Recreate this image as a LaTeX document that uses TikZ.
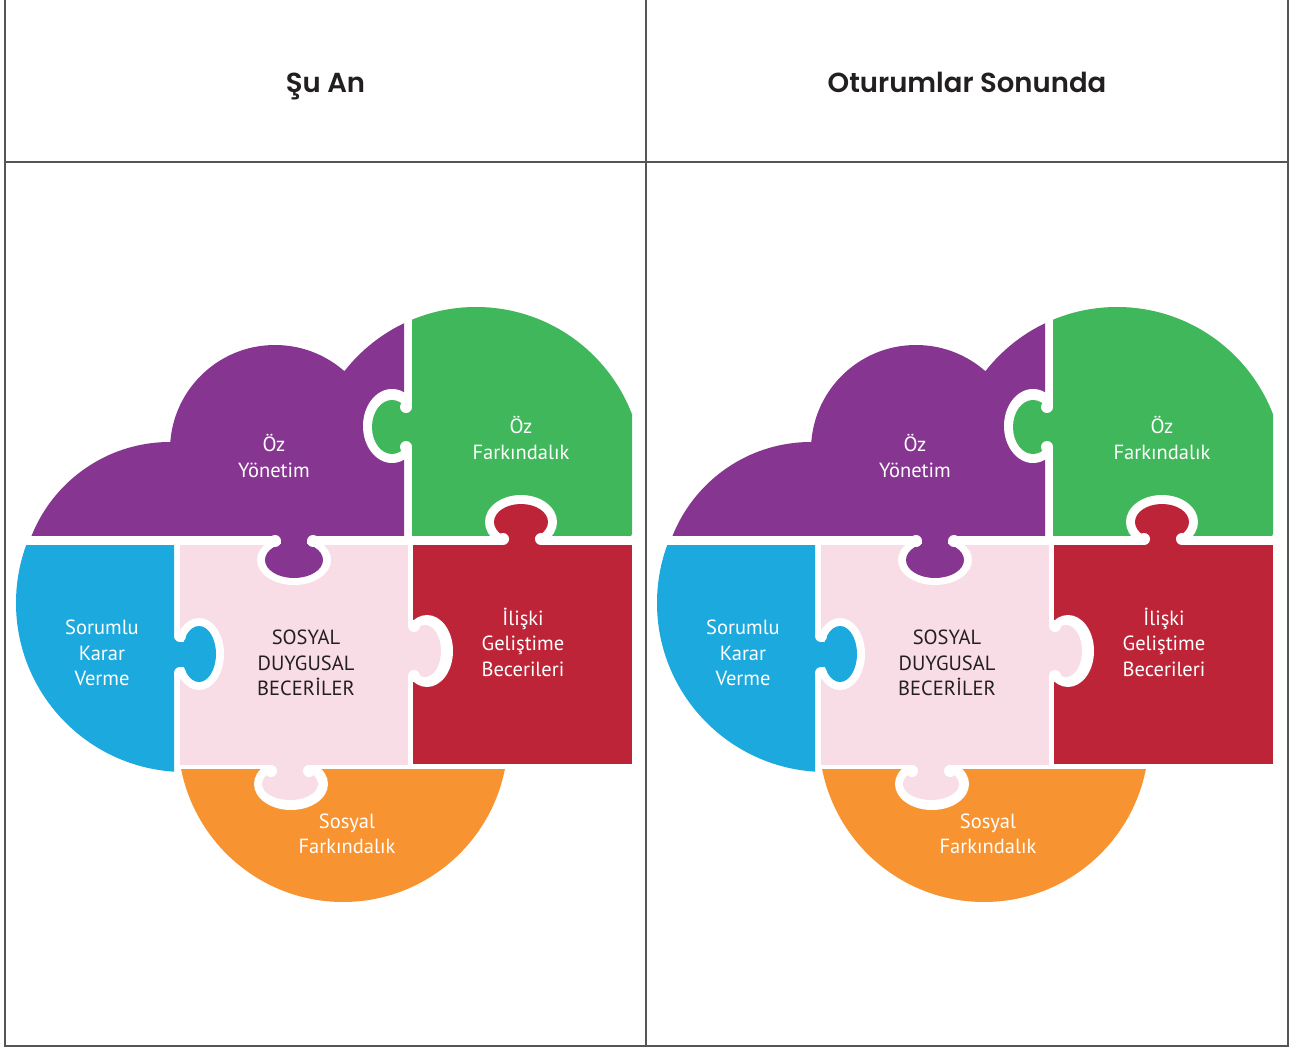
\documentclass[tikz,border=0pt]{standalone}
\usepackage{fontspec}
\setmainfont{PT Sans}
\newfontfamily\headfont{Poppins SemiBold}

\definecolor{pzpurple}{RGB}{134,54,145}
\definecolor{pzgreen}{RGB}{65,183,91}
\definecolor{pzred}{RGB}{190,36,56}
\definecolor{pzblue}{RGB}{28,169,222}
\definecolor{pzpink}{RGB}{249,221,230}
\definecolor{pzorange}{RGB}{247,148,49}
\definecolor{pzdark}{RGB}{35,31,32}
\definecolor{tblline}{RGB}{85,85,85}

\tikzset{
  tbl/.style={draw=tblline, line width=1.6pt},
  lbl/.style={text=white, font=\fontsize{20.5}{25.5}\selectfont, align=center, inner sep=0pt},
  lbldark/.style={lbl, text=pzdark},
  head/.style={text=pzdark, font=\headfont\fontsize{27.5}{32}\selectfont, inner sep=0pt, anchor=base},
}

% concave shoulder where a knob neck leaves its piece:
% #1 colour, #2 corner of the small square, #3 opposite corner, #4 centre of the white cut
\newcommand\pzfillet[4]{%
  \fill[#1] #2 rectangle #3;
  \fill[white] #4 circle[radius=6pt];
}

% one puzzle of six pieces; #1 is the prefix for node names
\newcommand\pzpuzzle[1]{%
  % Oz Yonetim (purple cloud)
  \begin{scope}
    \clip (0,0) rectangle (404,535);
    \fill[pzpurple] (170,591) circle[radius=149pt] (275,450) circle[radius=105pt]
      (476,474) circle[radius=167pt];
  \end{scope}
  % Oz Farkindalik (green)
  \begin{scope}
    \clip (412,0) rectangle (632,535);
    \fill[pzgreen] (476,474) circle[radius=167pt];
  \end{scope}
  % Sorumlu Karar Verme (blue)
  \begin{scope}
    \clip (0,545) rectangle (174,900);
    \fill[pzblue] (185,603) circle[radius=169pt];
  \end{scope}
  % centre and right squares
  \fill[pzpink] (180,545) rectangle (408,765);
  \fill[pzred] (413,545) rectangle (632,764);
  % Sosyal Farkindalik (orange)
  \begin{scope}
    \clip (0,769) rectangle (640,1000);
    \fill[pzorange] (343,737) circle[radius=165pt];
  \end{scope}
  % knob: purple into pink
  \begin{scope}\clip (0,535) rectangle (640,800);
    \fill[white] (294,560) ellipse[x radius=37pt, y radius=25pt];
  \end{scope}
  \fill[pzpurple] (294,560) ellipse[x radius=29pt, y radius=18pt];
  \fill[pzpurple] (281,530) rectangle (307,552);
  \pzfillet{pzpurple}{(275,535)}{(281,541)}{(275,541)}
  \pzfillet{pzpurple}{(307,535)}{(313,541)}{(313,541)}
  % knob: green into purple
  \begin{scope}\clip (0,300) rectangle (406,540);
    \fill[white] (392,426) ellipse[x radius=29pt, y radius=37pt];
  \end{scope}
  \fill[pzgreen] (392,427) ellipse[x radius=20pt, y radius=27pt];
  \fill[pzgreen] (395,413) rectangle (416,441);
  \pzfillet{pzgreen}{(406,407)}{(412,413)}{(406,407)}
  \pzfillet{pzgreen}{(406,441)}{(412,447)}{(406,447)}
  % knob: red into green
  \begin{scope}\clip (400,300) rectangle (640,537);
    \fill[white] (521,522) ellipse[x radius=36pt, y radius=27pt];
  \end{scope}
  \fill[pzred] (521,522) ellipse[x radius=27pt, y radius=18pt];
  \fill[pzred] (509,515) rectangle (535,550);
  \pzfillet{pzred}{(503,539)}{(509,545)}{(503,539)}
  \pzfillet{pzred}{(535,539)}{(541,545)}{(541,539)}
  % knob: blue into pink
  \begin{scope}\clip (177,540) rectangle (400,770);
    \fill[white] (199,654) ellipse[x radius=25pt, y radius=36pt];
  \end{scope}
  \fill[pzblue] (199,654) ellipse[x radius=17pt, y radius=28pt];
  \fill[pzblue] (170,642) rectangle (192,667);
  \pzfillet{pzblue}{(174,636)}{(180,642)}{(180,636)}
  \pzfillet{pzblue}{(174,667)}{(180,673)}{(180,673)}
  % knob: pink into red
  \begin{scope}\clip (410,540) rectangle (640,770);
    \fill[white] (427,651) ellipse[x radius=26pt, y radius=36pt];
  \end{scope}
  \fill[pzpink] (425,651) ellipse[x radius=16pt, y radius=26pt];
  \fill[pzpink] (400,632) rectangle (420,670);
  \pzfillet{pzpink}{(408,626)}{(414,632)}{(414,626)}
  \pzfillet{pzpink}{(408,670)}{(414,676)}{(414,676)}
  % knob: pink into orange
  \begin{scope}\clip (0,767) rectangle (640,900);
    \fill[white] (291,784) ellipse[x radius=37pt, y radius=26pt];
  \end{scope}
  \fill[pzpink] (290,784) ellipse[x radius=28pt, y radius=16pt];
  \fill[pzpink] (277,760) rectangle (303,775);
  \pzfillet{pzpink}{(271,765)}{(277,771)}{(271,771)}
  \pzfillet{pzpink}{(303,765)}{(309,771)}{(309,771)}
  % labels
  \node[lbl] (#1oy) at (274,456) {Öz\\Yönetim};
  \node[lbl] (#1of) at (521,438) {Öz\\Farkındalık};
  \node[lbl] (#1sk) at (102,653) {Sorumlu\\Karar\\Verme};
  \node[lbldark] (#1sd) at (306,663) {SOSYAL\\DUYGUSAL\\BECERİLER};
  \node[lbl] (#1ig) at (523,642) {İlişki\\Geliştime\\Becerileri};
  \node[lbl] (#1sf) at (347,834) {Sosyal\\Farkındalık};
}

\begin{document}
\begin{tikzpicture}[x=1pt, y=-1pt]
  \useasboundingbox (0,0) rectangle (1299,1048);
  \fill[white] (0,0) rectangle (1299,1048);

  \begin{scope}
    \pzpuzzle{L}
  \end{scope}
  \begin{scope}[shift={(641,0)}]
    \pzpuzzle{R}
  \end{scope}

  % table frame
  \draw[tbl] (5,0) -- (5,1046) -- (1288,1046) -- (1288,0);
  \draw[tbl] (646,0) -- (646,1046);
  \draw[tbl] (5,162) -- (1288,162);

  \node[head] (now) at (325.5,93) {Şu An};
  \node[head] (after) at (967,93) {Oturumlar Sonunda};
\end{tikzpicture}
\end{document}
